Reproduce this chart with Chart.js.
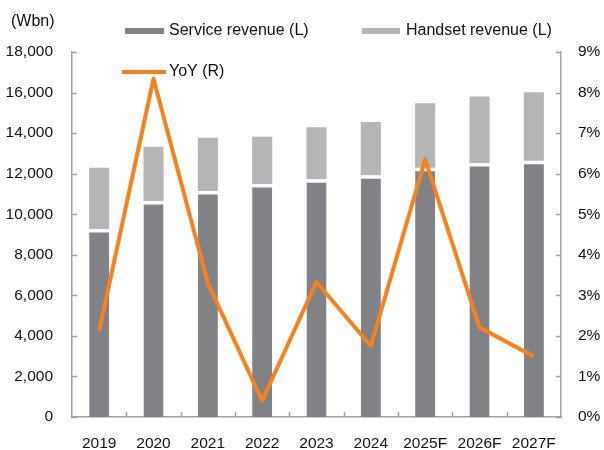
<!DOCTYPE html>
<html>
<head>
<meta charset="utf-8">
<script src="https://cdn.jsdelivr.net/npm/chart.js@4/dist/chart.umd.min.js"></script>
<style>
  html, body { margin: 0; padding: 0; background: #fff; }
  canvas { display: block; }
</style>
</head>
<body>
<canvas id="c" width="604" height="450"></canvas>
<script>
const categories = ['2019', '2020', '2021', '2022', '2023', '2024', '2025F', '2026F', '2027F'];
const serviceRevenue = [9270, 10650, 11150, 11490, 11720, 11920, 12290, 12530, 12640];
const handsetRevenue = [3020, 2680, 2620, 2330, 2570, 2630, 3180, 3270, 3370];
const yoy = [2.12, 8.34, 3.30, 0.40, 3.33, 1.75, 6.35, 2.21, 1.49];
const leftTicks = [0, 2000, 4000, 6000, 8000, 10000, 12000, 14000, 16000, 18000];
const rightTicks = [0, 1, 2, 3, 4, 5, 6, 7, 8, 9];
const unitLabel = '(Wbn)';

const FONT = '"Liberation Sans", Arial, sans-serif';
const FS = 15.5;
const LFS = 16;
const AXIS = '#a0a0a0';
const C_SERV = '#808285';
const C_HAND = '#b4b5b7';
const C_YOY = '#f5821f';

Chart.defaults.font.family = FONT;
Chart.defaults.font.size = FS;
Chart.defaults.color = '#111';

const decor = {
  id: 'decor',
  afterDraw(chart) {
    const ctx = chart.ctx;
    const a = chart.chartArea;
    const x = chart.scales.x, y = chart.scales.y, y1 = chart.scales.y1;
    ctx.save();
    ctx.strokeStyle = AXIS;
    ctx.lineWidth = 1.5;
    ctx.beginPath();
    y.ticks.forEach(t => {
      const p = Math.round(y.getPixelForValue(t.value)) + 0.5;
      ctx.moveTo(a.left, p); ctx.lineTo(a.left + 5, p);
    });
    y1.ticks.forEach(t => {
      const p = Math.round(y1.getPixelForValue(t.value)) + 0.5;
      ctx.moveTo(a.right - 5, p); ctx.lineTo(a.right, p);
    });
    for (let i = 1; i < categories.length; i++) {
      const p = Math.round((x.getPixelForValue(i - 1) + x.getPixelForValue(i)) / 2) + 0.5;
      ctx.moveTo(p, a.bottom); ctx.lineTo(p, a.bottom - 5);
    }
    ctx.stroke();

    // legend
    const ds = chart.data.datasets;
    ctx.font = LFS + 'px ' + FONT;
    ctx.textBaseline = 'middle';
    ctx.textAlign = 'left';
    ctx.fillStyle = ds[0].backgroundColor;
    ctx.fillRect(125, 28, 39, 6);
    ctx.fillStyle = ds[1].backgroundColor;
    ctx.fillRect(362, 28, 38, 6);
    ctx.strokeStyle = ds[2].borderColor;
    ctx.lineWidth = 4;
    ctx.beginPath(); ctx.moveTo(122, 72); ctx.lineTo(166, 72); ctx.stroke();
    ctx.fillStyle = '#111';
    ctx.fillText(ds[0].label, 169, 31);
    ctx.fillText(ds[1].label, 406, 31);
    ctx.fillText(ds[2].label, 169, 72);
    ctx.fillText(unitLabel, 11, 22);
    ctx.restore();
  }
};

new Chart(document.getElementById('c'), {
  type: 'bar',
  data: {
    labels: categories,
    datasets: [
      {
        label: 'Service revenue (L)',
        data: serviceRevenue,
        backgroundColor: C_SERV,
        borderColor: '#ffffff',
        borderWidth: { top: 3.5, right: 0, bottom: 0, left: 0 },
        borderSkipped: 'start',
        stack: 's', yAxisID: 'y', order: 2,
        categoryPercentage: 1, barPercentage: 0.37
      },
      {
        label: 'Handset revenue (L)',
        data: handsetRevenue,
        backgroundColor: C_HAND,
        borderWidth: 0,
        stack: 's', yAxisID: 'y', order: 2,
        categoryPercentage: 1, barPercentage: 0.37
      },
      {
        type: 'line',
        label: 'YoY (R)',
        data: yoy,
        borderColor: C_YOY,
        backgroundColor: C_YOY,
        borderWidth: 4,
        pointRadius: 0,
        tension: 0,
        borderJoinStyle: 'round',
        yAxisID: 'y1', order: 1
      }
    ]
  },
  options: {
    responsive: false,
    animation: false,
    devicePixelRatio: 1,
    layout: { padding: { top: 52, left: 0, right: 0, bottom: 0 } },
    plugins: { legend: { display: false }, tooltip: { enabled: false } },
    scales: {
      x: {
        stacked: true,
        grid: { display: false, drawTicks: false },
        border: { display: true, color: AXIS, width: 1.5 },
        ticks: { padding: 17, color: '#111', maxRotation: 0, minRotation: 0, autoSkip: false },
        afterFit: s => { s.height = 33; }
      },
      y: {
        stacked: true,
        position: 'left',
        min: 0, max: 18000,
        afterBuildTicks: s => { s.ticks = leftTicks.map(v => ({ value: v })); },
        grid: { display: false, drawTicks: false },
        border: { display: true, color: AXIS, width: 1.5 },
        ticks: { padding: 19, color: '#111', callback: v => v.toLocaleString('en-US') },
        afterFit: s => { s.width = 72; }
      },
      y1: {
        position: 'right',
        min: 0, max: 9,
        afterBuildTicks: s => { s.ticks = rightTicks.map(v => ({ value: v })); },
        grid: { display: false, drawTicks: false },
        border: { display: true, color: AXIS, width: 1.5 },
        ticks: { padding: 17, color: '#111', callback: v => v + '%' },
        afterFit: s => { s.width = 43; }
      }
    }
  },
  plugins: [decor]
});
</script>
</body>
</html>
